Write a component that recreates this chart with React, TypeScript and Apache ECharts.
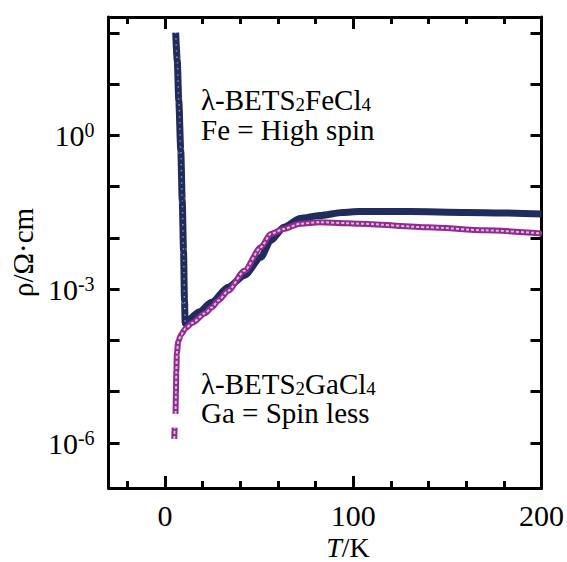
import React, { useEffect, useRef } from "react";
import * as echarts from "echarts";

const FONT = "Liberation Serif";

// λ-BETS2FeCl4 (Fe = high spin): temperature T (K), resistivity ρ (Ω·cm)
const feTemp = [5.65, 6.5, 7.3, 8.36, 9.14, 9.82, 10.34, 10.7, 11.7, 18, 24.8, 33.5, 42.2, 50.9, 56.1, 63.1, 71.8, 82.2, 94.3, 103.1, 130, 160, 200];
const feRho = [102, 29, 4.8, 0.51, 0.054, 0.0056, 6.0e-4, 2.2e-4, 2.4e-4, 3.6e-4, 5.6e-4, 1.1e-3, 1.86e-3, 4.2e-3, 8.9e-3, 1.62e-2, 2.4e-2, 2.75e-2, 3.16e-2, 3.3e-2, 3.3e-2, 3.16e-2, 2.95e-2];

// λ-BETS2GaCl4 (Ga = spin less): temperature T (K), resistivity ρ (Ω·cm); null = gap in data
const gaTemp = [4.9, 5.1, 5.3, 5.6, 5.8, 6.0, 6.3, 7.0, 8.5, 11, 14.4, 21.3, 24.8, 28.3, 33.5, 42.2, 50.9, 56.1, 63.1, 71.8, 82.2, 96.2, 103.1, 139.7, 170, 200];
const gaRho = [1.2e-6, 2.0e-6, null, 3.7e-6, 1.0e-5, 2.5e-5, 5.6e-5, 9.5e-5, 1.3e-4, 1.74e-4, 2.2e-4, 3.4e-4, 4.4e-4, 6.0e-4, 9.3e-4, 2.3e-3, 6.6e-3, 1.2e-2, 1.5e-2, 1.9e-2, 2.04e-2, 1.95e-2, 1.9e-2, 1.62e-2, 1.41e-2, 1.23e-2];

// axis ticks
const xMajorTicks = [0, 100, 200];
const xMinorTicks = [-20, 20, 40, 60, 80, 120, 140, 160, 180];
const xMin = -30;
const xMax = 200;
const yMin = Math.pow(10, -6.878);
const yMax = Math.pow(10, 2.312);

const NAVY = "#1f2c5c";
const PURPLE = "#8e2d8e";

function pairs(xs: number[], ys: (number | null)[]) {
  return xs.map((x, i) => (ys[i] == null ? [x, "-"] : [x, ys[i]]));
}

const subRich = {
  sub: { fontSize: 19, fontFamily: FONT, fill: "#000", verticalAlign: "top", lineHeight: 17, padding: [9, 0, 0, 0] },
  m: { fontSize: 29, fontFamily: FONT, fill: "#000", verticalAlign: "top", lineHeight: 23 },
};

function label(x: number, y: number, text: string, rich?: any) {
  return {
    type: "text",
    x,
    y,
    style: {
      text,
      fontSize: 29,
      fontFamily: FONT,
      fill: "#000",
      lineHeight: 23,
      align: "left",
      verticalAlign: "middle",
      rich,
    },
  };
}

export default function App() {
  const ref = useRef<HTMLDivElement>(null);
  useEffect(() => {
    if (!ref.current) return;
    const chart = echarts.init(ref.current, undefined, { renderer: "svg" });
    const feData = pairs(feTemp, feRho);
    const gaData = pairs(gaTemp, gaRho);
    const axisLine = { show: true, onZero: false, lineStyle: { color: "#000", width: 3 } };
    const xBase = (position: string) => ({
      type: "value",
      position,
      min: xMin,
      max: xMax,
      splitLine: { show: false },
    });
    const yBase = (position: string) => ({
      type: "log",
      logBase: 10,
      position,
      min: yMin,
      max: yMax,
      splitLine: { show: false },
      axisLine,
      axisTick: { show: true, inside: true, length: 11, lineStyle: { color: "#000", width: 3 } },
    });
    const option: any = {
      animation: false,
      backgroundColor: "#fff",
      grid: { left: 106, right: 22, top: 17, bottom: 74, containLabel: false },
      xAxis: [
        {
          ...xBase("bottom"),
          axisLine,
          axisTick: { show: true, inside: true, length: 12, customValues: xMajorTicks, lineStyle: { color: "#000", width: 3 } },
          axisLabel: { show: true, customValues: xMajorTicks, fontSize: 30, fontFamily: FONT, color: "#000", margin: 12 },
        },
        {
          ...xBase("bottom"),
          axisLine: { show: false },
          axisTick: { show: true, inside: true, length: 7, customValues: xMinorTicks, lineStyle: { color: "#000", width: 3 } },
          axisLabel: { show: false },
        },
        {
          ...xBase("top"),
          axisLine,
          axisTick: { show: true, inside: true, length: 12, customValues: xMajorTicks, lineStyle: { color: "#000", width: 3 } },
          axisLabel: { show: false },
        },
        {
          ...xBase("top"),
          axisLine: { show: false },
          axisTick: { show: true, inside: true, length: 7, customValues: xMinorTicks, lineStyle: { color: "#000", width: 3 } },
          axisLabel: { show: false },
        },
      ],
      yAxis: [
        {
          ...yBase("left"),
          name: "ρ/Ω·cm",
          nameLocation: "middle",
          nameGap: 66,
          nameTextStyle: { fontSize: 29, fontFamily: FONT, color: "#000" },
          axisLabel: {
            show: true,
            margin: 14,
            showMinLabel: false,
            showMaxLabel: false,
            formatter: (v: number) => {
              const l = Math.log10(v);
              const e = Math.round(l);
              if (Math.abs(l - e) > 1e-6 || e % 3 !== 0) return "";
              return `{b|10}{s|${e}}`;
            },
            rich: {
              b: { fontSize: 30, fontFamily: FONT, color: "#000" },
              s: { fontSize: 20, fontFamily: FONT, color: "#000", verticalAlign: "top" },
            },
          },
        },
        {
          ...yBase("right"),
          axisLabel: { show: false },
        },
      ],
      graphic: [
        label(201, 97, "{m|λ-BETS}{sub|2}{m|FeCl}{sub|4}", subRich),
        label(201, 130, "Fe = High spin"),
        label(201, 381, "{m|λ-BETS}{sub|2}{m|GaCl}{sub|4}", subRich),
        label(201, 413, "Ga = Spin less"),
        {
          type: "text",
          x: 348,
          y: 547,
          style: {
            text: "{i|T}{n|/K}",
            fontSize: 28,
            fontFamily: FONT,
            fill: "#000",
            align: "center",
            verticalAlign: "middle",
            rich: {
              i: { fontSize: 28, fontFamily: FONT, fontStyle: "italic", fill: "#000", lineHeight: 20 },
              n: { fontSize: 28, fontFamily: FONT, fill: "#000", lineHeight: 20 },
            },
          },
        },
      ],
      series: [
        {
          type: "line",
          xAxisIndex: 0,
          yAxisIndex: 0,
          data: feData,
          symbol: "none",
          smooth: 0.25,
          smoothMonotone: "x",
          lineStyle: { color: NAVY, width: 7 },
          z: 2,
        },
        {
          type: "line",
          xAxisIndex: 0,
          yAxisIndex: 0,
          data: feData.slice(0, 8),
          symbol: "none",
          smooth: 0.25,
          smoothMonotone: "x",
          lineStyle: { color: "#ffffff", width: 1.5, type: [1, 5], opacity: 0.7 },
          z: 3,
        },
        {
          type: "line",
          xAxisIndex: 0,
          yAxisIndex: 0,
          data: gaData,
          symbol: "none",
          smooth: 0.25,
          smoothMonotone: "x",
          lineStyle: { color: PURPLE, width: 6 },
          z: 4,
        },
        {
          type: "line",
          xAxisIndex: 0,
          yAxisIndex: 0,
          data: gaData,
          symbol: "none",
          smooth: 0.25,
          smoothMonotone: "x",
          lineStyle: { color: "#e2b6e2", width: 2, type: [3, 2] },
          z: 5,
        },
      ],
    };
    chart.setOption(option);
    return () => chart.dispose();
  }, []);
  return <div ref={ref} style={{ position: "fixed", left: 0, top: 0, width: 567, height: 562 }} />;
}
